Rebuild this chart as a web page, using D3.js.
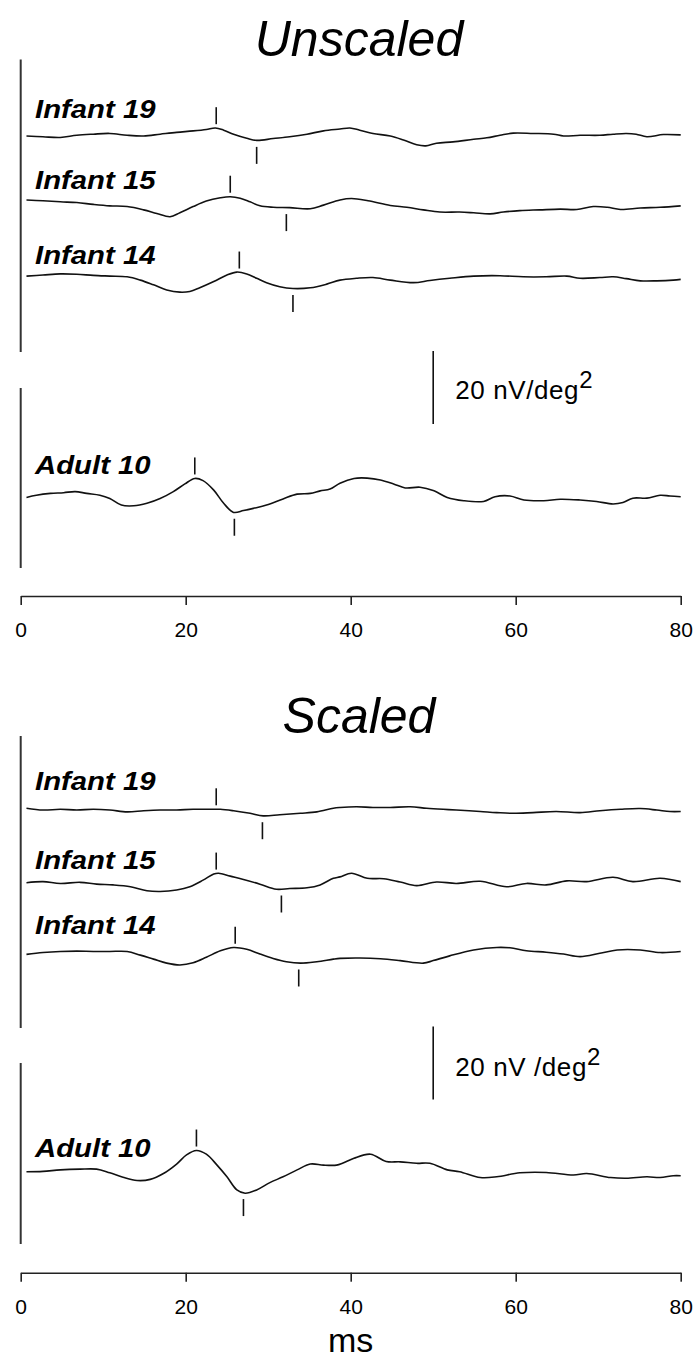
<!DOCTYPE html>
<html>
<head>
<meta charset="utf-8">
<script src="https://cdn.jsdelivr.net/npm/d3@7"></script>
<style>
  html, body { margin: 0; padding: 0; background: #fff; }
  svg { display: block; font-family: "Liberation Sans", Arial, Helvetica, sans-serif; }
</style>
</head>
<body>
<svg id="chart" width="697" height="1361"></svg>
<script>
// Averaged evoked responses (nV/deg²) against time after stimulus (ms)
const subjects = ["Infant 19", "Infant 15", "Infant 14", "Adult 10"];
const xTicks = [0, 20, 40, 60, 80];

// Unscaled traces: [ms, nV/deg²]
const unscaledInfant19 = [[0.7,0],[2.7,-0.2],[4.8,-0.4],[6.8,0.2],[8.8,0.5],[10.8,0.7],[12.9,0.2],[14.9,0],[16.9,0.5],[18.9,1.0],[20.9,1.4],[22.5,1.8],[23.6,2.2],[24.6,1.6],[25.8,0.5],[27.4,-0.6],[28.6,-1.2],[30.6,-0.7],[32.6,-0.2],[34.7,0.5],[36.7,1.4],[38.7,1.9],[39.9,2.2],[41.1,1.6],[42.7,0.7],[44.8,0],[46.4,-1.1],[48.0,-2.4],[49.1,-2.7],[50.4,-2.0],[52.4,-1.6],[54.9,-0.9],[56.5,-0.5],[58.1,0.2],[59.7,0.8],[62.1,0.7],[64.6,0.5],[65.8,0],[67.8,0.2],[70.2,0.2],[71.8,0.5],[73.4,0.7],[74.6,0.5],[75.9,-0.2],[77.9,0.4],[80,0.3]];
const unscaledInfant15 = [[0.7,0],[2.7,-0.2],[4.8,-0.5],[6.8,-0.7],[8.8,-1.2],[10.8,-1.6],[12.9,-1.8],[14.9,-2.7],[16.5,-3.7],[18.1,-4.6],[19.3,-3.5],[20.9,-1.8],[22.5,-0.3],[24.2,0.6],[25.4,0.9],[26.6,0.5],[27.8,-0.5],[29.0,-1.6],[30.6,-2.0],[32.6,-2.1],[35.1,-2.4],[36.7,-1.4],[38.7,0],[40.1,0.4],[42.1,-0.2],[44.8,-1.5],[46.8,-2.0],[48.8,-2.7],[50.8,-3.3],[53.2,-3.3],[54.9,-3.5],[56.9,-3.8],[58.5,-3.3],[60.5,-2.9],[62.9,-2.7],[65.4,-2.5],[67.4,-2.6],[69.4,-1.8],[71.1,-2.0],[72.7,-2.6],[75.1,-2.2],[77.5,-2.0],[80,-1.6]];
const unscaledInfant14 = [[0.7,-0.3],[2.7,0],[4.8,0.3],[6.8,0.2],[8.8,-0.1],[10.8,-0.3],[12.9,-0.5],[14.5,-1.4],[16.1,-2.7],[17.7,-4.1],[19.3,-4.7],[20.5,-4.5],[21.7,-3.5],[23.4,-1.8],[25.0,0],[26.2,0.8],[27.4,0.3],[28.6,-0.9],[29.8,-2.1],[31.4,-3.2],[33.0,-3.7],[35.1,-3.5],[37.1,-2.5],[38.7,-1.4],[40.7,-0.9],[42.7,-0.7],[44.8,-1.4],[47.6,-2.1],[49.6,-1.5],[52.0,-0.9],[54.9,-0.3],[58.1,-0.2],[60.9,-0.5],[63.7,-0.5],[66.2,-0.3],[67.8,-0.9],[70.2,-0.7],[71.8,-0.5],[73.4,-1.0],[75.1,-1.6],[77.1,-1.6],[79.1,-1.4],[80,-1.2]];
const unscaledAdult10 = [[0.7,-0.2],[1.9,0.4],[3.6,0.9],[5.2,1.1],[6.6,1.4],[8.0,0.9],[9.6,0.4],[10.8,-0.5],[12.2,-2.3],[13.7,-2.5],[15.3,-1.8],[16.9,-0.5],[18.5,1.4],[19.9,3.5],[21.1,5.0],[22.1,4.4],[23.4,1.8],[24.6,-1.8],[25.8,-4.3],[27.0,-3.8],[28.2,-3.2],[29.8,-2.3],[31.8,-0.6],[33.5,0.7],[35.1,0.9],[36.3,1.6],[37.5,2.1],[38.7,3.7],[40.4,5.0],[42.0,5.1],[43.6,4.6],[45.2,3.5],[46.6,2.4],[48.4,2.6],[50.1,1.6],[51.7,-0.2],[53.7,-1.1],[56.1,-1.3],[57.5,0],[59.3,0.2],[61.0,-0.9],[63.4,-1.1],[65.4,-0.7],[67.8,-0.9],[69.8,-1.3],[71.8,-2.0],[73.0,-1.6],[74.2,-0.4],[75.9,-0.4],[77.5,0.4],[78.7,0.2],[80,0]];

// Scaled traces: [ms, nV/deg²]
const scaledInfant19 = [[0.7,0.3],[2.7,-0.2],[4.8,0],[6.8,-0.2],[8.8,0],[10.8,-0.2],[12.9,-0.7],[14.9,-0.4],[16.9,-0.2],[18.9,-0.2],[20.9,0],[22.9,0],[24.2,0],[25.8,-0.4],[27.8,-1.1],[29.4,-1.8],[31.4,-1.5],[33.9,-1.1],[35.9,-0.7],[37.9,0.3],[38.7,0.5],[40.7,0.7],[42.7,0.5],[44.8,0.5],[47.2,0.7],[49.2,0.3],[51.2,0],[52.8,-0.2],[55.7,-0.6],[57.7,-0.9],[59.7,-1.1],[62.1,-0.9],[64.9,-0.6],[67.8,-0.9],[70.2,-0.4],[72.7,0],[75.1,0.2],[77.1,-0.2],[78.7,-0.6],[80,-0.6]];
const scaledInfant15 = [[0.7,0],[2.7,0.3],[4.8,-0.2],[7.2,0.1],[9.2,-0.4],[11.2,-0.6],[13.3,-1.1],[15.3,-2.2],[16.9,-2.4],[18.9,-2.0],[20.5,-1.1],[22.1,0.7],[23.4,2.4],[24.0,2.6],[25.4,1.8],[27.0,0.9],[29.0,-0.4],[31.0,-1.8],[32.6,-1.6],[34.7,-1.4],[36.3,-0.6],[37.9,1.2],[38.7,1.6],[40.1,2.6],[42.0,1.2],[44.0,1.1],[46.0,0.2],[48.0,-0.8],[50.4,0.2],[52.8,-0.2],[55.7,0.4],[58.9,-1.1],[61.3,-0.2],[63.7,-0.6],[66.2,0.5],[68.6,0.3],[71.8,1.5],[74.2,0.3],[77.5,1.2],[80,0.3]];
const scaledInfant14 = [[0.7,-0.3],[2.7,0.2],[4.8,0.5],[6.8,0.6],[8.8,0.5],[10.8,0.5],[12.9,0.5],[14.5,-0.5],[16.1,-1.6],[17.7,-2.7],[19.3,-3.2],[20.9,-2.6],[22.5,-1.1],[24.2,0.7],[25.8,1.6],[27.4,1.1],[29.0,-0.2],[30.6,-1.4],[32.2,-2.3],[33.9,-2.7],[35.9,-2.3],[37.9,-1.6],[38.7,-1.4],[41.1,-1.3],[43.6,-1.5],[46.0,-2.0],[48.8,-2.7],[50.0,-2.0],[52.0,-0.7],[54.9,0.9],[57.7,1.6],[59.3,1.5],[61.3,0.7],[63.7,0.3],[65.8,-0.2],[67.8,-0.9],[70.2,0],[72.3,0.9],[75.1,0.9],[77.5,0.2],[80,0.5]];
const scaledAdult10 = [[0.7,0],[2.7,0.1],[4.8,0.5],[7.2,0.7],[9.2,0.7],[10.8,-0.3],[12.4,-1.5],[14.1,-2.4],[15.7,-2.1],[17.3,-0.5],[18.9,2.1],[20.1,4.6],[21.3,5.8],[22.5,4.8],[23.8,1.8],[25.0,-1.4],[26.2,-5.0],[27.2,-5.9],[28.6,-5.0],[30.2,-3.0],[31.8,-1.4],[33.5,0.5],[35.1,2.1],[36.7,1.8],[38.3,1.8],[39.0,2.3],[40.4,3.7],[42.4,4.8],[44.3,2.8],[46.0,2.7],[48.0,2.3],[49.6,2.3],[51.7,0.5],[53.2,0],[55.7,-1.6],[57.7,-1.4],[60.5,-0.3],[63.7,-0.2],[67.0,-0.9],[68.6,-0.5],[71.5,-1.6],[73.4,-1.8],[75.9,-1.4],[77.5,-1.6],[79.1,-1.1],[80,-1.1]];

// Latencies (ms) of the marked positive peak and negative trough
const peakLatUnscaled = [23.7, 25.4, 26.5, 21.1];
const troughLatUnscaled = [28.6, 32.2, 33.0, 25.9];
const peakLatScaled = [23.7, 23.7, 26.0, 21.3];
const troughLatScaled = [29.3, 31.6, 33.7, 27.0];

// Calibration bar
const calibValue = 20;
const calibAt = 50;

const svg = d3.select("#chart");
const x = d3.scaleLinear().domain([0, 80]).range([20.7, 680.7]);
const amp = d3.scaleLinear().domain([0, calibValue]).range([0, 73]);

const panels = [
  {
    title: "Unscaled", titleY: 56,
    traces: [unscaledInfant19, unscaledInfant15, unscaledInfant14, unscaledAdult10],
    bases: [136, 200, 275, 496.7],
    labelYs: [118, 188.5, 263.5, 473.5],
    peaks: peakLatUnscaled, troughs: troughLatUnscaled,
    axisY: 596, groupLines: [[59.5, 352], [388, 568]],
    calibBottom: 424, calibLabel: "20 nV/deg", calibTextY: 399
  },
  {
    title: "Scaled", titleY: 733,
    traces: [scaledInfant19, scaledInfant15, scaledInfant14, scaledAdult10],
    bases: [809.3, 882.7, 953.3, 1171.7],
    labelYs: [790, 868.5, 933.5, 1156.5],
    peaks: peakLatScaled, troughs: troughLatScaled,
    axisY: 1272.7, groupLines: [[736, 1028], [1063, 1244]],
    calibBottom: 1099.5, calibLabel: "20 nV /deg", calibTextY: 1076
  }
];

const ink = "#111";

function valueAt(trace, t) {
  for (let i = 1; i < trace.length; i++) {
    if (trace[i][0] >= t) {
      const [t0, v0] = trace[i - 1], [t1, v1] = trace[i];
      return v0 + (v1 - v0) * (t - t0) / (t1 - t0);
    }
  }
  return trace[trace.length - 1][1];
}

panels.forEach(p => {
  const g = svg.append("g");

  g.append("text")
    .attr("x", 359).attr("y", p.titleY)
    .attr("text-anchor", "middle")
    .attr("font-size", 50).attr("font-style", "italic")
    .attr("fill", "#000")
    .text(p.title);

  // Group separators on the left edge (infants / adult)
  p.groupLines.forEach(([y0, y1]) => {
    g.append("line")
      .attr("x1", x(0)).attr("x2", x(0))
      .attr("y1", y0).attr("y2", y1)
      .attr("stroke", "#333").attr("stroke-width", 2);
  });

  p.traces.forEach((trace, i) => {
    const base = p.bases[i];
    const yv = v => base - amp(v);
    const line = d3.line()
      .x(d => x(d[0])).y(d => yv(d[1]))
      .curve(d3.curveCatmullRom.alpha(0.5));
    g.append("path")
      .datum(trace)
      .attr("d", line)
      .attr("fill", "none")
      .attr("stroke", ink)
      .attr("stroke-width", 1.6)
      .attr("stroke-linejoin", "round");

    g.append("text")
      .attr("transform", `translate(35,${p.labelYs[i]}) scale(1.15,1)`)
      .attr("font-size", 25.5).attr("font-weight", "bold").attr("font-style", "italic")
      .attr("fill", "#000")
      .text(subjects[i]);

    const tp = p.peaks[i];
    const yp = yv(valueAt(trace, tp));
    g.append("line")
      .attr("x1", x(tp)).attr("x2", x(tp))
      .attr("y1", yp - 4).attr("y2", yp - 21)
      .attr("stroke", ink).attr("stroke-width", 1.6);

    const tt = p.troughs[i];
    const yt = yv(valueAt(trace, tt));
    g.append("line")
      .attr("x1", x(tt)).attr("x2", x(tt))
      .attr("y1", yt + 6.5).attr("y2", yt + 23.5)
      .attr("stroke", ink).attr("stroke-width", 1.6);
  });

  // Calibration bar
  g.append("line")
    .attr("x1", x(calibAt)).attr("x2", x(calibAt))
    .attr("y1", p.calibBottom).attr("y2", p.calibBottom - amp(calibValue))
    .attr("stroke", ink).attr("stroke-width", 1.6);
  const ct = g.append("text")
    .attr("x", x(calibAt) + 22).attr("y", p.calibTextY)
    .attr("font-size", 26).attr("letter-spacing", 0.6).attr("fill", "#000");
  ct.append("tspan").text(p.calibLabel);
  ct.append("tspan").attr("dy", -11).attr("font-size", 24).text("2");

  // Time axis
  const axis = d3.axisBottom(x).tickValues(xTicks).tickSize(9).tickSizeOuter(0).tickPadding(17);
  const ag = g.append("g").attr("transform", `translate(0,${p.axisY})`).call(axis);
  ag.select(".domain").attr("stroke", "#222").attr("stroke-width", 1.6);
  ag.selectAll(".tick line").attr("stroke", "#222").attr("stroke-width", 1.6);
  ag.selectAll(".tick text")
    .attr("font-size", 21)
    .attr("font-family", "'Liberation Sans', Arial, sans-serif")
    .attr("fill", "#000");
});

svg.append("text")
  .attr("x", 350.7).attr("y", 1352)
  .attr("text-anchor", "middle")
  .attr("font-size", 34).attr("fill", "#000")
  .text("ms");
</script>
</body>
</html>
